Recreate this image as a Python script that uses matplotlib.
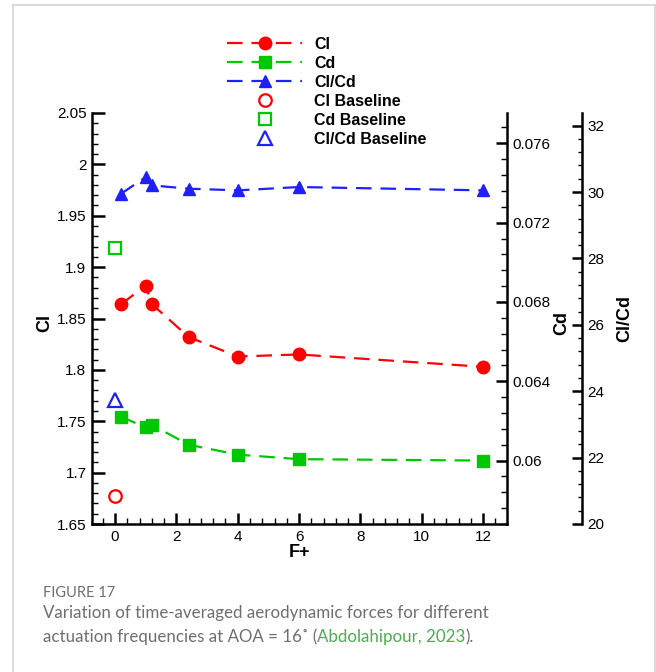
import numpy as np
import matplotlib.pyplot as plt
from matplotlib.lines import Line2D
from matplotlib.ticker import MultipleLocator

plt.rcParams['font.family'] = ['Liberation Sans', 'DejaVu Sans']

# actuation frequency F+ and time-averaged coefficients
f_plus = [0.2, 1.0, 1.2, 2.4, 4.0, 6.0, 12.0]
cl = [1.864, 1.882, 1.864, 1.832, 1.813, 1.815, 1.803]
cd = [0.0622, 0.06168, 0.0618, 0.0608, 0.0603, 0.06007, 0.0600]
cl_cd = [29.95, 30.45, 30.2, 30.1, 30.05, 30.15, 30.05]

# uncontrolled case
f_base = [0.0]
cl_base = [1.6775]
cd_base = [0.0707]
cl_cd_base = [23.74]

red = '#ff0000'
green = '#00c800'
blue = '#1f1fff'

fig = plt.figure(figsize=(6.56, 6.72), dpi=100)
ax = fig.add_axes([92 / 656, 1 - 524 / 672, 415 / 656, 411 / 672])
ax2 = ax.twinx()
ax3 = ax.twinx()
ax3.spines['right'].set_position(('axes', 490 / 415))

dash = (7, 4)
l1, = ax.plot(f_plus, cl, '--o', color=red, ms=9, lw=1.6, dashes=dash)
b1, = ax.plot(f_base, cl_base, 'o', mfc='none', mec=red, ms=9, mew=1.6)
l2, = ax2.plot(f_plus, cd, '--s', color=green, ms=8, lw=1.6, dashes=dash)
b2, = ax2.plot(f_base, cd_base, 's', mfc='none', mec=green, ms=8.5, mew=1.6)
l3, = ax3.plot(f_plus, cl_cd, '--^', color=blue, ms=9, lw=1.6, dashes=dash)
b3, = ax3.plot(f_base, cl_cd_base, '^', mfc='none', mec=blue, ms=9.5, mew=1.6)

ax.set_xlim(-0.75, 12.78)
ax.set_ylim(1.65, 2.05)
ax2.set_ylim(0.0568, 0.07753)
ax3.set_ylim(20, 32.38)

ax.xaxis.set_major_locator(MultipleLocator(2))
ax.xaxis.set_minor_locator(MultipleLocator(0.4))
ax.yaxis.set_major_locator(MultipleLocator(0.05))
ax.yaxis.set_minor_locator(MultipleLocator(0.01))
ax2.yaxis.set_major_locator(MultipleLocator(0.004))
ax2.yaxis.set_minor_locator(MultipleLocator(0.0008))
ax3.yaxis.set_major_locator(MultipleLocator(2))
ax3.yaxis.set_minor_locator(MultipleLocator(0.4))
ax.set_yticks([1.65, 1.7, 1.75, 1.8, 1.85, 1.9, 1.95, 2.0, 2.05])
ax.set_yticklabels(['1.65', '1.7', '1.75', '1.8', '1.85', '1.9', '1.95', '2', '2.05'])
ax2.set_yticks([0.06, 0.064, 0.068, 0.072, 0.076])
ax2.set_yticklabels(['0.06', '0.064', '0.068', '0.072', '0.076'])

for a in (ax, ax2, ax3):
    for s in a.spines.values():
        s.set_linewidth(1.8)
    a.spines['top'].set_visible(False)
    a.tick_params(which='major', direction='in', length=8, width=1.8, labelsize=11, pad=4)
    a.tick_params(which='minor', direction='in', length=4, width=1.0)
ax.spines['right'].set_visible(False)
ax2.spines['left'].set_visible(False)
ax2.spines['bottom'].set_visible(False)
ax3.spines['left'].set_visible(False)
ax3.spines['bottom'].set_visible(False)
ax.tick_params(axis='y', which='major', length=9)
ax3.tick_params(which='major', length=7)
ax3.tick_params(which='minor', length=3)

ax.set_xlabel('F+', fontsize=13, fontweight='bold')
ax.set_ylabel('Cl', fontsize=13, fontweight='bold')
ax2.set_ylabel('Cd', fontsize=13, fontweight='bold')
ax3.set_ylabel('Cl/Cd', fontsize=13, fontweight='bold')
ax.xaxis.set_label_coords(0.5, -0.07)
ax.xaxis.label.set_va('center')
ax.yaxis.set_label_coords(-0.113, 0.49)
ax2.yaxis.set_label_coords(1.133, 0.49)
ax3.yaxis.set_label_coords(1.284, 0.5)
for lab in (ax.yaxis.label, ax2.yaxis.label, ax3.yaxis.label):
    lab.set_va('center')
    lab.set_rotation(90)

fig.legend([l1, l2, l3, b1, b2, b3],
           ['Cl', 'Cd', 'Cl/Cd', 'Cl Baseline', 'Cd Baseline', 'Cl/Cd Baseline'],
           loc='upper left', bbox_to_anchor=(227 / 656, 1 - 37 / 672),
           frameon=False, borderpad=0, borderaxespad=0,
           handlelength=4.7, handletextpad=0.75, labelspacing=0.25,
           prop={'weight': 'bold', 'size': 11.5})

# light frame around the panel
frame = dict(color='#d4d4d4', lw=1.2, transform=fig.transFigure)
fig.add_artist(Line2D([13 / 656, 655 / 656], [1 - 5 / 672, 1 - 5 / 672], **frame))
fig.add_artist(Line2D([13 / 656, 13 / 656], [0, 1 - 5 / 672], **frame))
fig.add_artist(Line2D([655 / 656, 655 / 656], [0, 1 - 5 / 672], **frame))

# caption
grey = '#6e6e6e'
cap = dict(family=['Lato', 'DejaVu Sans'], color=grey, va='center')
fs = 12.2
fig.text(43 / 656, 1 - 593 / 672, 'FIGURE 17', fontsize=10.5, **cap)
fig.text(43 / 656, 1 - 613 / 672,
         'Variation of time-averaged aerodynamic forces for different', fontsize=fs, **cap)
t1 = fig.text(43 / 656, 1 - 637 / 672, 'actuation frequencies at AOA = 16\u02da (', fontsize=fs, **cap)
fig.canvas.draw()
bb = t1.get_window_extent()
x2 = bb.x1 / fig.bbox.width
t2 = fig.text(x2, 1 - 637 / 672, 'Abdolahipour, 2023', fontsize=fs,
              **{**cap, 'color': '#4cae4f'})
fig.canvas.draw()
bb2 = t2.get_window_extent()
fig.text(bb2.x1 / fig.bbox.width, 1 - 637 / 672, ').', fontsize=fs, **cap)

fig.savefig('out.png', dpi=100)
